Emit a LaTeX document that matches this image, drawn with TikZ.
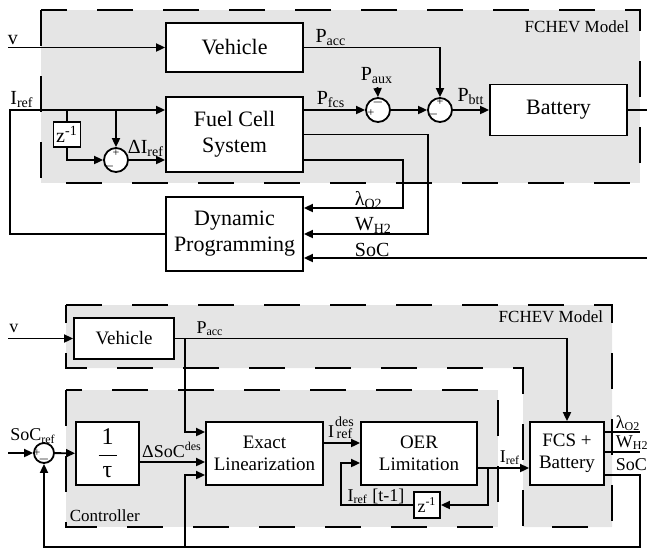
\documentclass[tikz,border=0pt]{standalone}
\usepackage{fontspec}
\setmainfont{Liberation Serif}
\usetikzlibrary{arrows.meta}

\tikzset{
    blk/.style={draw, fill=white, align=center, inner sep=1pt},
    sumnode/.style={draw, circle, fill=white, minimum size=12pt, inner sep=0pt},
    region/.style={fill=gray!20, draw, line width=1.2pt, dash pattern=on 18pt off 15pt},
    sgn/.style={font=\fontsize{6}{6}\selectfont, inner sep=0pt},
    lbl/.style={inner sep=1pt, font=\fontsize{10}{11}\selectfont},
    lblb/.style={inner sep=1pt, font=\fontsize{9}{10}\selectfont},
    topfont/.style={font=\fontsize{11}{13}\selectfont},
    botfont/.style={font=\fontsize{9.5}{11}\selectfont},
    modfont/.style={font=\fontsize{8.5}{10}\selectfont, inner sep=1pt},
}

\begin{document}
\begin{tikzpicture}[x=0.5pt, y=-0.5pt, line width=0.9pt, >={Triangle[length=4.5pt,width=4pt]}]
\useasboundingbox (0,0) rectangle (647,548);

% ---- Dynamic Programming set-up (top) ----
\begin{scope}
    \draw[region] (41,10) rectangle (640,183);
    \node[anchor=east, modfont] (modA) at (632,27) {FCHEV Model};

    \node[blk, topfont, minimum width=68.5pt, minimum height=24.5pt] (veh) at (234.5,47.5) {Vehicle};
    \node[blk, topfont, minimum width=68.5pt, minimum height=37.5pt] (fcs) at (234.5,134.5) {Fuel Cell\\System};
    \node[blk, topfont, minimum width=68.5pt, minimum height=37pt] (dp) at (234.5,234) {Dynamic\\Programming};
    \node[blk, lbl, minimum width=13.5pt, minimum height=12.5pt] (zdel) at (67,134.5) {z\textsuperscript{-1}};
    \node[blk, topfont, minimum width=68.5pt, minimum height=25.5pt] (bat) at (558.5,110) {Battery};
    \node[sumnode] (sumI) at (116,160) {};
    \node[sumnode] (sumA) at (378,110) {};
    \node[sumnode] (sumB) at (440,110) {};

    % signs of the summing points
    \node[sgn] at (116,153) {+};
    \node[sgn] at (109,166) {$-$};
    \node[sgn] at (378,102) {$-$};
    \node[sgn] at (371,113) {+};
    \node[sgn] at (440,102) {+};
    \node[sgn] at (433,114) {$-$};

    % inputs and outputs
    \coordinate (vin) at (8,47.5);
    \coordinate (batout) at (647,110);
    \coordinate (socA) at (647,258);
    \draw[->] (vin) -- (veh);
    \draw[->] (veh.east) -| (sumB.north);
    \draw[->] (fcs.east |- sumA) -- (sumA);
    \draw[->] (sumA) -- (sumB);
    \draw[->] (sumB) -- (bat);
    \draw (bat.east) -- (batout);
    \draw[->] (fcs.east) -- (428,134.5) |- (dp.east);
    \draw[->] (fcs.east |- sumI) -- (403,160) |- (dp.east |- 0,208);
    \draw[->] (socA) -- (dp.east |- socA);
    \draw[->] (dp.west) -- (10,234) |- (fcs.west |- sumA);
    \draw (67,110) -- (zdel.north);
    \draw[->] (zdel.south) |- (sumI.west);
    \draw[->] (sumI |- sumA) -- (sumI.north);
    \draw[->] (sumI) -- (fcs.west |- sumI);

    % labels
    \node[lbl] (paux) at (377,76) {P\textsubscript{aux}};
    \draw[->] (paux) -- (sumA.north);
    \node[lbl] (vA) at (13,40) {v};
    \node[lbl] (irefA) at (22,100) {I\textsubscript{ref}};
    \node[lbl] (dirA) at (146,148) {ΔI\textsubscript{ref}};
    \node[lbl] (paccA) at (331,38) {P\textsubscript{acc}};
    \node[lbl] (pfcsA) at (331,100) {P\textsubscript{fcs}};
    \node[lbl] (pbttA) at (471,97) {P\textsubscript{btt}};
    \node[lbl, anchor=west] (lamA) at (352,200) {λ\textsubscript{O2}};
    \node[lbl, anchor=west] (whA) at (352,225) {W\textsubscript{H2}};
    \node[lbl, anchor=west] (socAl) at (352,250) {SoC};
\end{scope}

% ---- Controller set-up (bottom) ----
\begin{scope}
    \draw[region] (66,305) -- (612,305) -- (612,527) -- (523,527) -- (523,368) -- (66,368) -- cycle;
    \draw[region] (66,390) rectangle (498,527);
    \node[anchor=east, modfont] (modB) at (606,317) {FCHEV Model};
    \node[anchor=west, modfont] (ctrl) at (67,516) {Controller};

    \node[blk, botfont, minimum width=50pt, minimum height=20.5pt] (vehB) at (124,338.5) {Vehicle};
    \node[blk, minimum width=31.5pt, minimum height=31.5pt, font=\fontsize{12}{13}\selectfont] (tau) at (107.5,453.5)
        {$\displaystyle\frac{\hbox to 9pt{\hss 1\hss}}{\hbox{τ}}$};
    \node[blk, botfont, minimum width=58.5pt, minimum height=31.5pt] (exl) at (264.5,453.5) {Exact\\Linearization};
    \node[blk, botfont, minimum width=58pt, minimum height=31.5pt] (oer) at (419,453.5) {OER\\Limitation};
    \node[blk, lblb, minimum width=13pt, minimum height=13pt] (zdB) at (427,505) {z\textsuperscript{-1}};
    \node[blk, botfont, minimum width=37pt, minimum height=31.5pt] (fcb) at (567,453.5) {FCS +\\Battery};
    \node[sumnode, minimum size=10pt] (sumS) at (44,453) {};
    \node[sgn] at (37,453) {+};
    \node[sgn] at (44,459) {$-$};

    % signals
    \coordinate (vinB) at (8,338.5);
    \coordinate (socin) at (8,453);
    \draw[->] (vinB) -- (vehB);
    \draw[->] (vehB.east) -| (fcb.north);
    \draw[->] (185,338.5) |- (exl.west |- 0,432);
    \draw[->] (socin) -- (sumS);
    \draw[->] (sumS) -- (tau);
    \draw[->] (tau.east |- 0,462) -- (exl.west |- 0,462);
    \draw[->] (fcb.east |- 0,475) -- (640,475) -- (640,547) -| (sumS.south);
    \draw[->] (185,547) |- (exl.west |- 0,475);
    \draw[->] (exl.east |- 0,443) -- (oer.west |- 0,443);
    \draw[->] (oer.east |- 0,468) -- (fcb.west |- 0,468);
    \draw[->] (488,468) |- (zdB.east);
    \draw[->] (zdB.west) -- (341,505) |- (oer.west |- 0,463);
    \draw (fcb.east |- 0,432) -- (640,432);
    \draw (fcb.east |- 0,452) -- (640,452);

    % labels
    \node[lblb] (vB) at (14,328) {v};
    \node[lblb] (paccB) at (210,329) {P\textsubscript{acc}};
    \node[lblb] (socref) at (33,436) {SoC\textsubscript{ref}};
    \node[lblb] (dsoc) at (172,450) {ΔSoC\textsuperscript{des}};
    \node[lblb, inner sep=0pt] (ides) at (341,428)
        {I\kern0.5pt\raisebox{-0.2ex}{\shortstack{\scriptsize des\\[-2pt]\scriptsize ref}}};
    \node[lblb] (irefB) at (510,458) {I\textsubscript{ref}};
    \node[lblb] (iprev) at (376,496) {I\textsubscript{ref} [t-1]};
    \node[lblb, anchor=west] (lamB) at (613,423) {λ\textsubscript{O2}};
    \node[lblb, anchor=west] (whB) at (613,443) {W\textsubscript{H2}};
    \node[lblb, anchor=west] (socB) at (613,465) {SoC};
\end{scope}

\end{tikzpicture}
\end{document}
